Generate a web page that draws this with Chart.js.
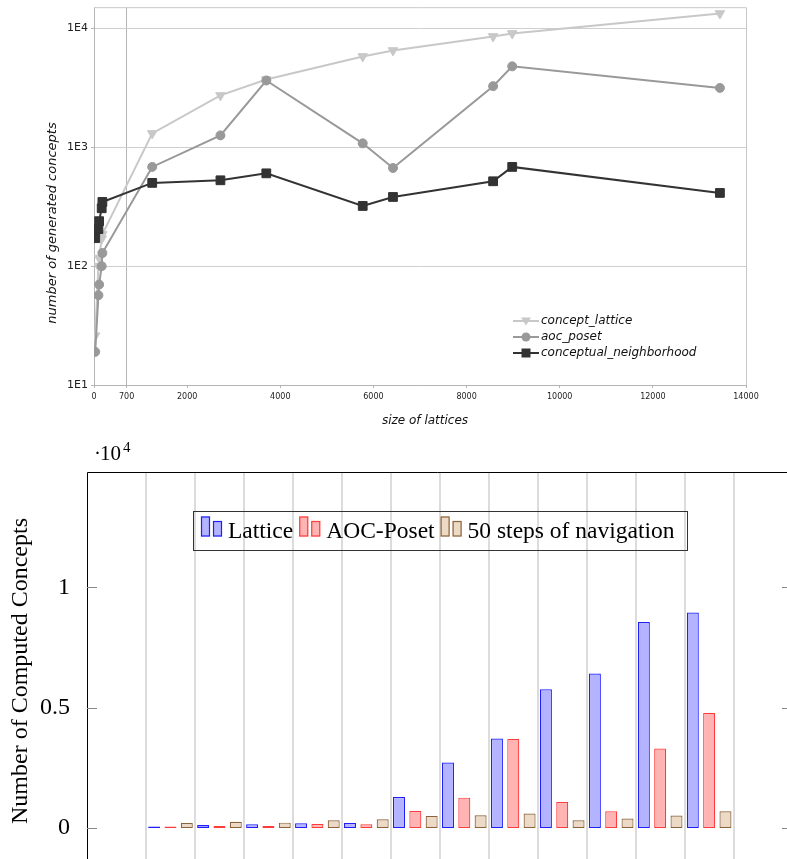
<!DOCTYPE html>
<html>
<head>
<meta charset="utf-8">
<script src="https://cdn.jsdelivr.net/npm/chart.js@4.4.0/dist/chart.umd.min.js"></script>
<style>
  html, body { margin: 0; padding: 0; background: #fff; }
  body { width: 787px; height: 859px; position: relative; overflow: hidden; }
  #grafTop { position: absolute; left: 0; top: 0; }
  #grafBottom { position: absolute; left: 0; top: 430px; }
</style>
</head>
<body>
<canvas id="grafTop" width="787" height="430"></canvas>
<canvas id="grafBottom" width="787" height="429"></canvas>
<script>
// ---- datos grafico de arriba (escala log) ----
const sizes = [26, 95, 110, 165, 180, 1250, 2715, 3700, 5770, 6420, 8570, 8980, 13440];
const conceptLattice = [26, 100, 117, 170, 185, 1310, 2735, 3720, 5820, 6530, 8570, 9080, 13370];
const aocPoset = [19, 57, 70, 100, 129, 684, 1260, 3650, 1080, 670, 3270, 4800, 3160];
const conceptualNeighborhood = [172, 205, 239, 307, 347, 502, 528, 604, 321, 382, 518, 684, 413];
const xTicksTop = [0, 700, 2000, 4000, 6000, 8000, 10000, 12000, 14000];
const yTicksTop = [10, 100, 1000, 10000];

// ---- datos grafico de abajo (barras) ----
const groups = [1, 2, 3, 4, 5, 6, 7, 8, 9, 10, 11, 12];
const latticeBars = [26, 125, 150, 195, 207, 1290, 2715, 3715, 5760, 6415, 8560, 8950];
const aocBars = [19, 80, 80, 165, 150, 700, 1260, 3700, 1080, 690, 3300, 4780];
const navBars = [207, 260, 220, 320, 360, 500, 527, 600, 320, 390, 515, 693];
const yTicksBottom = [0, 5000, 10000];

const toPoints = (xs, ys) => xs.map((x, i) => ({ x: x, y: ys[i] }));

// plugin: marco, titulos y leyenda del grafico de arriba
const marcoTop = {
  id: 'marcoTop',
  afterDraw(chart) {
    const { ctx, chartArea: a } = chart;
    ctx.save();
    ctx.strokeStyle = '#c8c8c8';
    ctx.lineWidth = 1;
    ctx.beginPath();
    ctx.moveTo(a.left, a.top + 0.5);
    ctx.lineTo(a.right + 0.5, a.top + 0.5);
    ctx.lineTo(a.right + 0.5, a.bottom);
    ctx.stroke();

    ctx.fillStyle = '#111';
    ctx.textAlign = 'center';
    ctx.textBaseline = 'middle';
    ctx.font = 'italic 12px "DejaVu Sans"';
    ctx.fillText('size of lattices', 425, 421);
    ctx.save();
    ctx.translate(53, 223);
    ctx.rotate(-Math.PI / 2);
    ctx.font = 'italic 13px "DejaVu Sans"';
    ctx.fillText('number of generated concepts', 0, 0);
    ctx.restore();

    // leyenda
    const orden = [2, 1, 0];
    ctx.font = 'italic 12px "DejaVu Sans"';
    ctx.textAlign = 'left';
    orden.forEach((idx, fila) => {
      const ds = chart.data.datasets.find(d => d.order === idx);
      const y = 321 + fila * 16;
      ctx.strokeStyle = ds.borderColor;
      ctx.fillStyle = ds.borderColor;
      ctx.lineWidth = 2;
      ctx.beginPath();
      ctx.moveTo(513, y);
      ctx.lineTo(539, y);
      ctx.stroke();
      ctx.beginPath();
      if (ds.pointStyle === 'triangle') {
        ctx.moveTo(526 - 5, y - 3.5);
        ctx.lineTo(526 + 5, y - 3.5);
        ctx.lineTo(526, y + 4.5);
        ctx.closePath();
      } else if (ds.pointStyle === 'circle') {
        ctx.arc(526, y, 4.5, 0, Math.PI * 2);
      } else {
        ctx.rect(526 - 4.5, y - 4.5, 9, 9);
      }
      ctx.fill();
      ctx.fillStyle = '#111';
      ctx.fillText(ds.label, 541, y);
    });
    ctx.restore();
  }
};

const ctxTop = document.getElementById('grafTop').getContext('2d');
const chartTop = new Chart(ctxTop, {
  type: 'line',
  data: {
    datasets: [
      {
        label: 'concept_lattice', order: 2,
        data: toPoints(sizes, conceptLattice),
        borderColor: '#c8c8c8', backgroundColor: '#c8c8c8',
        pointStyle: 'triangle', pointRotation: 180, pointRadius: 5.5
      },
      {
        label: 'aoc_poset', order: 1,
        data: toPoints(sizes, aocPoset),
        borderColor: '#999999', backgroundColor: '#999999',
        pointStyle: 'circle', pointRadius: 4.5
      },
      {
        label: 'conceptual_neighborhood', order: 0,
        data: toPoints(sizes, conceptualNeighborhood),
        borderColor: '#333333', backgroundColor: '#333333',
        pointStyle: 'rect', pointRadius: 6.2
      }
    ]
  },
  options: {
    responsive: false,
    animation: false,
    layout: { padding: { top: 7, right: 41, left: 0, bottom: 0 } },
    elements: { line: { borderWidth: 2, tension: 0 }, point: { borderWidth: 1 } },
    plugins: { legend: { display: false }, tooltip: { enabled: false } },
    scales: {
      x: {
        type: 'linear', min: 0, max: 14000,
        afterBuildTicks: s => { s.ticks = xTicksTop.map(v => ({ value: v })); },
        afterFit: s => { s.height = 45; s.paddingLeft = 0; s.paddingRight = 0; },
        grid: {
          color: c => (c.tick && c.tick.value === 700) ? '#b4b4b4' : 'rgba(0,0,0,0)',
          tickColor: '#b4b4b4', tickLength: 3
        },
        border: { color: '#b4b4b4' },
        ticks: {
          autoSkip: false, maxRotation: 0, padding: 4, color: '#222',
          font: { family: 'DejaVu Sans', size: 8 },
          callback: v => String(v)
        }
      },
      y: {
        type: 'logarithmic', min: 10, max: 15100,
        afterBuildTicks: s => { s.ticks = yTicksTop.map(v => ({ value: v })); },
        afterFit: s => { s.width = 94; s.paddingTop = 0; s.paddingBottom = 0; },
        grid: { color: '#cfcfcf', tickColor: '#b4b4b4', tickLength: 3 },
        border: { color: '#b4b4b4' },
        ticks: {
          padding: 3, color: '#222',
          font: { family: 'DejaVu Sans', size: 11 },
          callback: v => '1E' + Math.round(Math.log10(v))
        }
      }
    }
  },
  plugins: [marcoTop]
});

// plugin: marco, marcas, etiquetas y leyenda del grafico de barras
const marcoBottom = {
  id: 'marcoBottom',
  afterDraw(chart) {
    const { ctx, chartArea: a } = chart;
    const ys = chart.scales.y;
    ctx.save();
    ctx.strokeStyle = '#000';
    ctx.lineWidth = 1;
    ctx.beginPath();
    ctx.moveTo(a.left + 0.5, a.bottom);
    ctx.lineTo(a.left + 0.5, a.top + 0.5);
    ctx.lineTo(a.right, a.top + 0.5);
    ctx.stroke();

    // marcas hacia adentro
    ctx.strokeStyle = '#888';
    ys.ticks.forEach(t => {
      const y = Math.round(ys.getPixelForValue(t.value)) + 0.5;
      ctx.beginPath();
      ctx.moveTo(a.left, y); ctx.lineTo(a.left + 10, y);
      ctx.moveTo(a.right - 5, y); ctx.lineTo(a.right, y);
      ctx.stroke();
    });

    // multiplicador
    ctx.fillStyle = '#000';
    ctx.textAlign = 'left';
    ctx.textBaseline = 'alphabetic';
    ctx.font = '21px "Liberation Serif"';
    ctx.fillText('\u00b7', 94, 30);
    ctx.fillText('10', 100, 30);
    ctx.font = '15px "Liberation Serif"';
    ctx.fillText('4', 123, 22);

    // titulo eje y
    ctx.save();
    ctx.translate(27, 241);
    ctx.rotate(-Math.PI / 2);
    ctx.textAlign = 'center';
    ctx.font = '24px "Liberation Serif"';
    ctx.fillText('Number of Computed Concepts', 0, 0);
    ctx.restore();

    // leyenda
    ctx.font = '23.5px "Liberation Serif"';
    const base = 107.5;
    let x = 201;
    chart.data.datasets.forEach(ds => {
      ctx.fillStyle = ds.backgroundColor;
      ctx.strokeStyle = ds.borderColor;
      ctx.lineWidth = 1.2;
      ctx.fillRect(x, base - 21, 9, 20);
      ctx.strokeRect(x + 0.5, base - 20.5, 8, 19);
      ctx.fillRect(x + 12, base - 16.5, 9, 15.5);
      ctx.strokeRect(x + 12.5, base - 16, 8, 14.5);
      ctx.fillStyle = '#000';
      ctx.fillText(ds.label, x + 27, base);
      x += 27 + ctx.measureText(ds.label).width + 6;
    });
    ctx.strokeStyle = '#333';
    ctx.lineWidth = 1;
    ctx.strokeRect(193.5, 81.5, x - 6 + 13 - 193.5, 39);
    ctx.restore();
  }
};

const ctxBottom = document.getElementById('grafBottom').getContext('2d');
const barStyle = { borderWidth: 1.2, borderSkipped: false, minBarLength: 1.5, categoryPercentage: 1.0, barPercentage: 0.735 };
const chartBottom = new Chart(ctxBottom, {
  type: 'bar',
  data: {
    datasets: [
      Object.assign({
        label: 'Lattice', data: toPoints(groups, latticeBars),
        backgroundColor: 'rgb(179,179,255)', borderColor: 'rgb(30,30,255)'
      }, barStyle),
      Object.assign({
        label: 'AOC-Poset', data: toPoints(groups, aocBars),
        backgroundColor: 'rgb(255,179,179)', borderColor: 'rgb(255,60,60)'
      }, barStyle),
      Object.assign({
        label: '50 steps of navigation', data: toPoints(groups, navBars),
        backgroundColor: 'rgb(236,217,198)', borderColor: 'rgb(140,100,60)'
      }, barStyle)
    ]
  },
  options: {
    responsive: false,
    animation: false,
    layout: { padding: { top: 42, right: 0, left: 0, bottom: 0 } },
    plugins: { legend: { display: false }, tooltip: { enabled: false } },
    scales: {
      x: {
        type: 'linear', min: -0.705, max: 13.59, offset: false,
        afterBuildTicks: s => { s.ticks = groups.map(g => ({ value: g - 0.5 })).concat([{ value: 12.5 }]); },
        afterFit: s => { s.height = 0; s.paddingLeft = 0; s.paddingRight = 0; },
        grid: { color: '#dcdcdc', lineWidth: 2, drawTicks: false, offset: false },
        border: { display: false },
        ticks: { display: false }
      },
      y: {
        min: -1290, max: 14790,
        afterBuildTicks: s => { s.ticks = yTicksBottom.map(v => ({ value: v })); },
        afterFit: s => { s.width = 87; s.paddingTop = 0; s.paddingBottom = 0; },
        grid: { display: false },
        border: { display: false },
        ticks: {
          padding: 9, color: '#000',
          font: { family: 'Liberation Serif', size: 24 },
          callback: v => String(v / 10000)
        }
      }
    }
  },
  plugins: [marcoBottom]
});
</script>
</body>
</html>
